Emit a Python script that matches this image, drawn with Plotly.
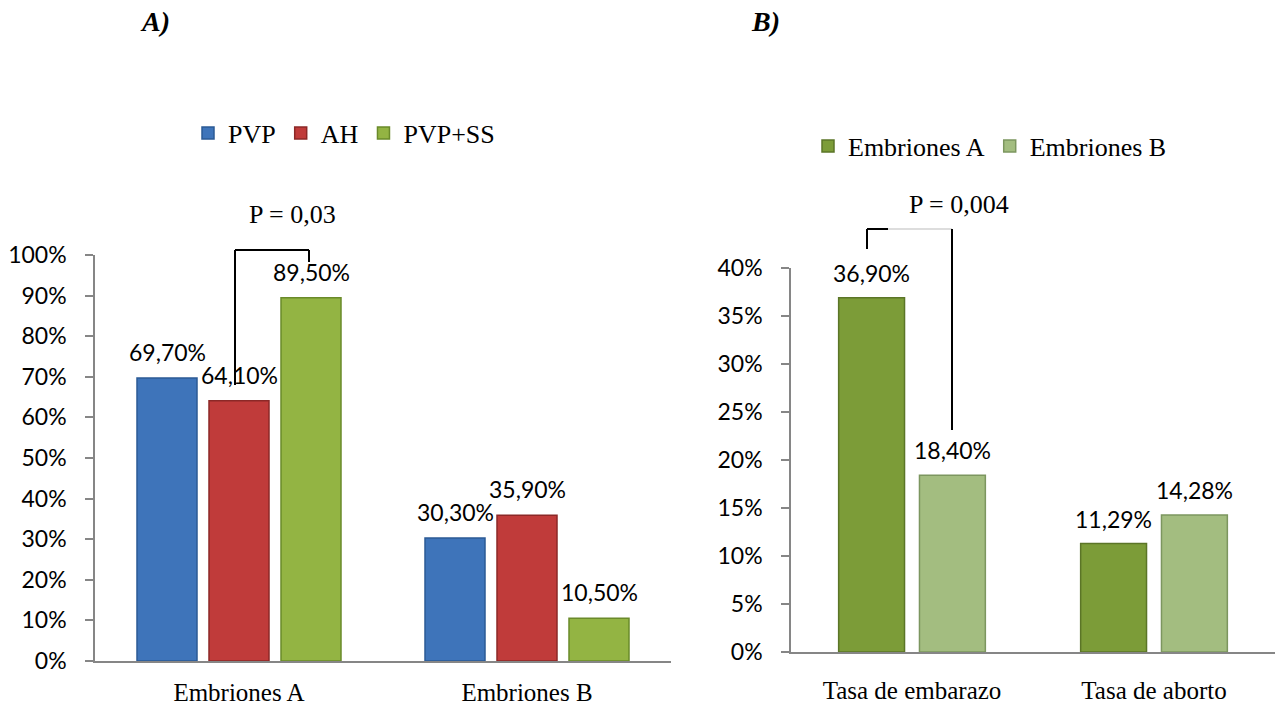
import plotly.graph_objects as go

W, H = 1277, 709

# ---------------- data ----------------
cats_a = ["Embriones A", "Embriones B"]
pvp = [0.697, 0.303]
ah = [0.641, 0.359]
pvp_ss = [0.895, 0.105]

cats_b = ["Tasa de embarazo", "Tasa de aborto"]
emb_a = [0.369, 0.1129]
emb_b = [0.184, 0.1428]

yticks_a = [0, 0.1, 0.2, 0.3, 0.4, 0.5, 0.6, 0.7, 0.8, 0.9, 1.0]
yticks_b = [0, 0.05, 0.10, 0.15, 0.20, 0.25, 0.30, 0.35, 0.40]


def px(x):
    return x / W


def py(y):
    return 1 - y / H


def fmt(v):
    return f"{v * 100:.2f}%".replace(".", ",")


SANS = "Lato"
SERIF = "Liberation Serif"
AXIS_GRAY = "#868686"

fig = go.Figure()

# Chart A bars (category width 288 px, bar 60 px, gap 12 px)
wa = 60 / 288
series_a = [
    ("PVP", pvp, -102 / 288, "#3E74BA", "#2B5A95"),
    ("AH", ah, -30 / 288, "#C03B3A", "#8C2827"),
    ("PVP+SS", pvp_ss, 42 / 288, "#93B443", "#6A8A2A"),
]
annotations = []
for name, vals, off, col, lcol in series_a:
    fig.add_trace(go.Bar(
        x=list(range(len(cats_a))), y=vals, name=name, width=wa, offset=off,
        marker=dict(color=col, line=dict(color=lcol, width=1.5)),
        xaxis="x", yaxis="y", legend="legend", hoverinfo="skip"))
    for i, v in enumerate(vals):
        annotations.append(dict(
            x=i + off + wa / 2, y=v, xref="x", yref="y", text=fmt(v),
            showarrow=False, yshift=26, yanchor="middle",
            font=dict(family=SANS, size=23, color="black")))

# Chart B bars (category width 242.5 px, bar 66 px, gap 15 px)
wb = 66 / 242.5
series_b = [
    ("Embriones A", emb_a, -73.5 / 242.5, "#7C9C38", "#5B7527"),
    ("Embriones B", emb_b, 7.5 / 242.5, "#A3BD80", "#7C965F"),
]
for name, vals, off, col, lcol in series_b:
    fig.add_trace(go.Bar(
        x=list(range(len(cats_b))), y=vals, name=name, width=wb, offset=off,
        marker=dict(color=col, line=dict(color=lcol, width=1.5)),
        xaxis="x2", yaxis="y2", legend="legend2", hoverinfo="skip"))
    for i, v in enumerate(vals):
        annotations.append(dict(
            x=i + off + wb / 2, y=v, xref="x2", yref="y2", text=fmt(v),
            showarrow=False, yshift=25, yanchor="middle",
            font=dict(family=SANS, size=23, color="black")))

# Text annotations
annotations += [
    dict(x=px(155), y=py(22), xref="paper", yref="paper", text="<b><i>A)</i></b>",
         showarrow=False, xanchor="center", yanchor="middle",
         font=dict(family=SERIF, size=28, color="black")),
    dict(x=px(765), y=py(22), xref="paper", yref="paper", text="<b><i>B)</i></b>",
         showarrow=False, xanchor="center", yanchor="middle",
         font=dict(family=SERIF, size=28, color="black")),
    dict(x=px(292), y=py(215), xref="paper", yref="paper", text="P = 0,03",
         showarrow=False, xanchor="center", yanchor="middle",
         font=dict(family=SERIF, size=26, color="black")),
    dict(x=px(959), y=py(204), xref="paper", yref="paper", text="P = 0,004",
         showarrow=False, xanchor="center", yanchor="middle",
         font=dict(family=SERIF, size=26, color="black")),
]


def seg(x0, y0, x1, y1, color="black", width=2):
    return dict(type="line", xref="paper", yref="paper",
                x0=px(x0), y0=py(y0), x1=px(x1), y1=py(y1),
                line=dict(color=color, width=width))


shapes = [
    seg(235, 250, 235, 385), seg(235, 250, 309, 250), seg(309, 250, 309, 262),
    seg(867, 229, 867, 249), seg(867, 229, 888, 229),
    seg(888, 229, 952, 229, color="#BBBBBB", width=1), seg(952, 229, 952, 430),
]

common_y = dict(showline=True, linecolor=AXIS_GRAY, linewidth=1.5, ticks="outside",
                ticklen=8, tickcolor=AXIS_GRAY, tickwidth=1.5, showgrid=False,
                zeroline=False, tickformat=".0%", ticklabelstandoff=14, automargin=False,
                tickfont=dict(family=SANS, size=23, color="black"))
common_x = dict(showline=True, linecolor=AXIS_GRAY, linewidth=1.5, ticks="",
                showgrid=False, zeroline=False, range=[-0.5, 1.5], tickvals=[0, 1],
                automargin=False,
                tickfont=dict(family=SERIF, size=25, color="black"))

fig.update_layout(
    template="none",
    width=W, height=H, autosize=False,
    margin=dict(l=0, r=0, t=0, b=0, pad=0),
    paper_bgcolor="white", plot_bgcolor="white",
    barmode="overlay",
    xaxis=dict(domain=[px(95), px(671)], ticktext=cats_a, anchor="y",
               ticklabelstandoff=8, **common_x),
    yaxis=dict(domain=[py(661), py(255)], range=[0, 1], tickvals=yticks_a,
               anchor="x", **common_y),
    xaxis2=dict(domain=[px(791), px(1275)], ticktext=cats_b, anchor="y2",
                ticklabelstandoff=15, **common_x),
    yaxis2=dict(domain=[py(652), py(268)], range=[0, 0.40], tickvals=yticks_b,
                anchor="x2", **common_y),
    legend=dict(orientation="h", x=px(188), y=py(133), xanchor="left", yanchor="middle",
                font=dict(family=SERIF, size=26, color="black"),
                bgcolor="rgba(0,0,0,0)", borderwidth=0),
    legend2=dict(orientation="h", x=px(808), y=py(146), xanchor="left", yanchor="middle",
                 font=dict(family=SERIF, size=26, color="black"),
                 bgcolor="rgba(0,0,0,0)", borderwidth=0),
    annotations=annotations,
    shapes=shapes,
)

fig.write_html("out.html", config={"displayModeBar": False},
               post_script="document.body.style.margin='0';")
